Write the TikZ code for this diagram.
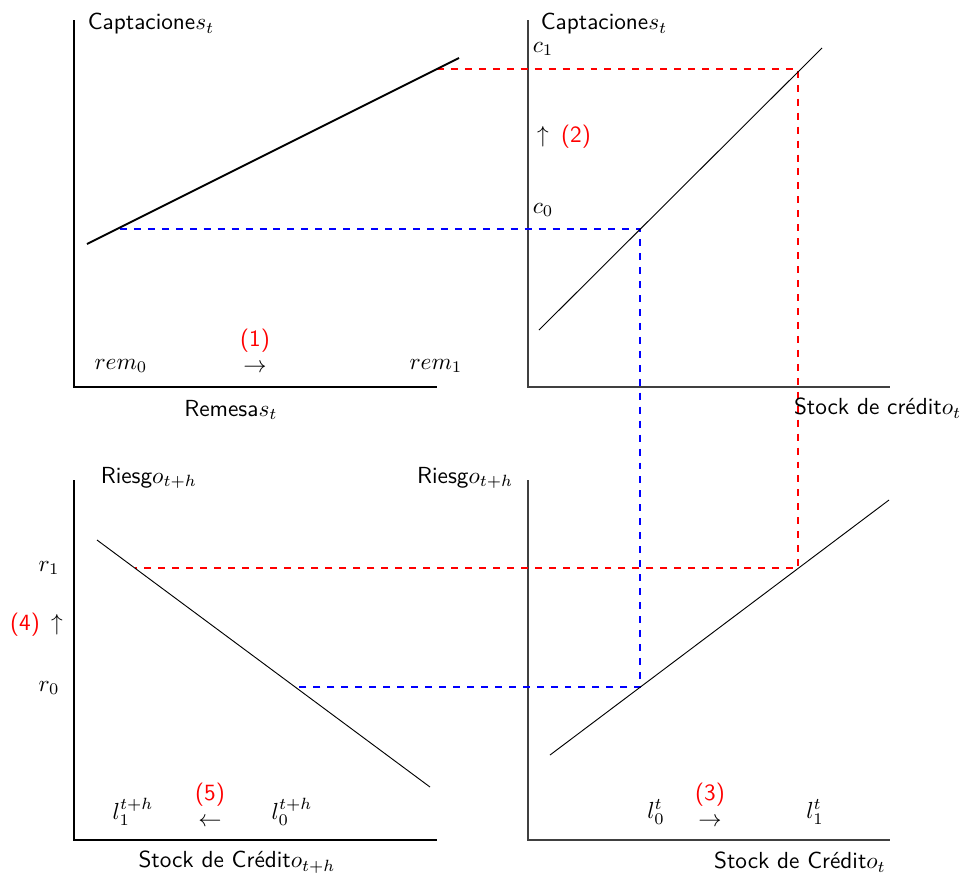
\documentclass[tikz,border=0pt]{standalone}
\begin{document}
\begin{tikzpicture}[x=0.43pt,y=-0.43pt,
  axis/.style={line width=0.5pt,black},
  axisr/.style={line width=0.6pt,black!75},
  curve/.style={line width=0.4pt,black},
  curvethick/.style={line width=0.8pt,black},
  reddash/.style={red,dashed,line width=0.6pt},
  bluedash/.style={blue,dashed,line width=0.6pt},
  lbl/.style={font=\sffamily,inner sep=1pt},
  num/.style={font=\sffamily,text=red,inner sep=1pt}]
\useasboundingbox (0,0) rectangle (966,876);
% axes
\coordinate (A1top) at (74,20); \coordinate (A1o) at (74,387); \coordinate (A1r) at (437,387);
\coordinate (A2top) at (528,20); \coordinate (A2o) at (528,387); \coordinate (A2r) at (890,387);
\coordinate (A3top) at (74,480); \coordinate (A3o) at (74,840); \coordinate (A3r) at (437,840);
\coordinate (A4top) at (528,480); \coordinate (A4o) at (528,840); \coordinate (A4r) at (890,840);
\draw[axis] (A1top) -- (A1o) -- (A1r);
\draw[axisr] (A2top) -- (A2o) -- (A2r);
\draw[axis] (A3top) -- (A3o) -- (A3r);
\draw[axisr] (A4top) -- (A4o) -- (A4r);
% curves
\coordinate (L1a) at (87,244); \coordinate (L1b) at (459,58);
\coordinate (L2a) at (539,330); \coordinate (L2b) at (822,48);
\coordinate (L3a) at (97,540); \coordinate (L3b) at (430,787);
\coordinate (L4a) at (550,755); \coordinate (L4b) at (889,500);
% dashed guides
\coordinate (R1) at (437,69); \coordinate (R2) at (798,69); \coordinate (R3) at (798,568); \coordinate (R4) at (135,568);
\coordinate (B1) at (120,229); \coordinate (B2) at (640,229); \coordinate (B3) at (640,687); \coordinate (B4) at (293,687);
\draw[reddash] (R1) -- (R2) -- (R3) -- (R4);
\draw[bluedash] (B1) -- (B2) -- (B3) -- (B4);
\draw[curvethick] (L1a) -- (L1b);
\draw[curve] (L2a) -- (L2b);
\draw[curve] (L3a) -- (L3b);
\draw[curve] (L4a) -- (L4b);
% labels panel 1
\node[lbl,anchor=west] (t1) at (85,24) {Captacione$s_t$};
\node[lbl] (rem0) at (121,366) {$rem_0$};
\node[lbl] (ar1) at (255,368) {$\rightarrow$};
\node[num] (n1) at (255,341) {(1)};
\node[lbl] (rem1) at (436,366) {$rem_1$};
\node[lbl] (x1) at (231,410) {Remesa$s_t$};
% panel 2
\node[lbl,anchor=west] (t2) at (538,24) {Captacione$s_t$};
\node[lbl] (c1) at (543,49) {$c_1$};
\node[lbl] (ar2) at (543,137) {$\uparrow$};
\node[num] (n2) at (576,137) {(2)};
\node[lbl] (c0) at (543,210) {$c_0$};
\node[lbl,anchor=east] (x2) at (964,408) {Stock de crédit$o_t$};
% panel 3
\node[lbl,anchor=west] (t3) at (98,478) {Riesg$o_{t+h}$};
\node[lbl] (r1) at (49,568) {$r_1$};
\node[num] (n4) at (25,625) {(4)};
\node[lbl] (ar4) at (57,625) {$\uparrow$};
\node[lbl] (r0) at (49,688) {$r_0$};
\node[lbl] (l1h) at (133,812) {$l_1^{t+h}$};
\node[lbl] (ar5) at (210,822) {$\leftarrow$};
\node[num] (n5) at (210,795) {(5)};
\node[lbl] (l0h) at (292,812) {$l_0^{t+h}$};
\node[lbl] (x3) at (237,862) {Stock de Crédit$o_{t+h}$};
% panel 4
\node[lbl,anchor=east] (t4) at (516,478) {Riesg$o_{t+h}$};
\node[lbl] (l0t) at (656,812) {$l_0^{t}$};
\node[lbl] (ar3) at (710,822) {$\rightarrow$};
\node[num] (n3) at (710,795) {(3)};
\node[lbl] (l1t) at (815,812) {$l_1^{t}$};
\node[lbl] (x4) at (800,862) {Stock de Crédit$o_t$};
\end{tikzpicture}
\end{document}
